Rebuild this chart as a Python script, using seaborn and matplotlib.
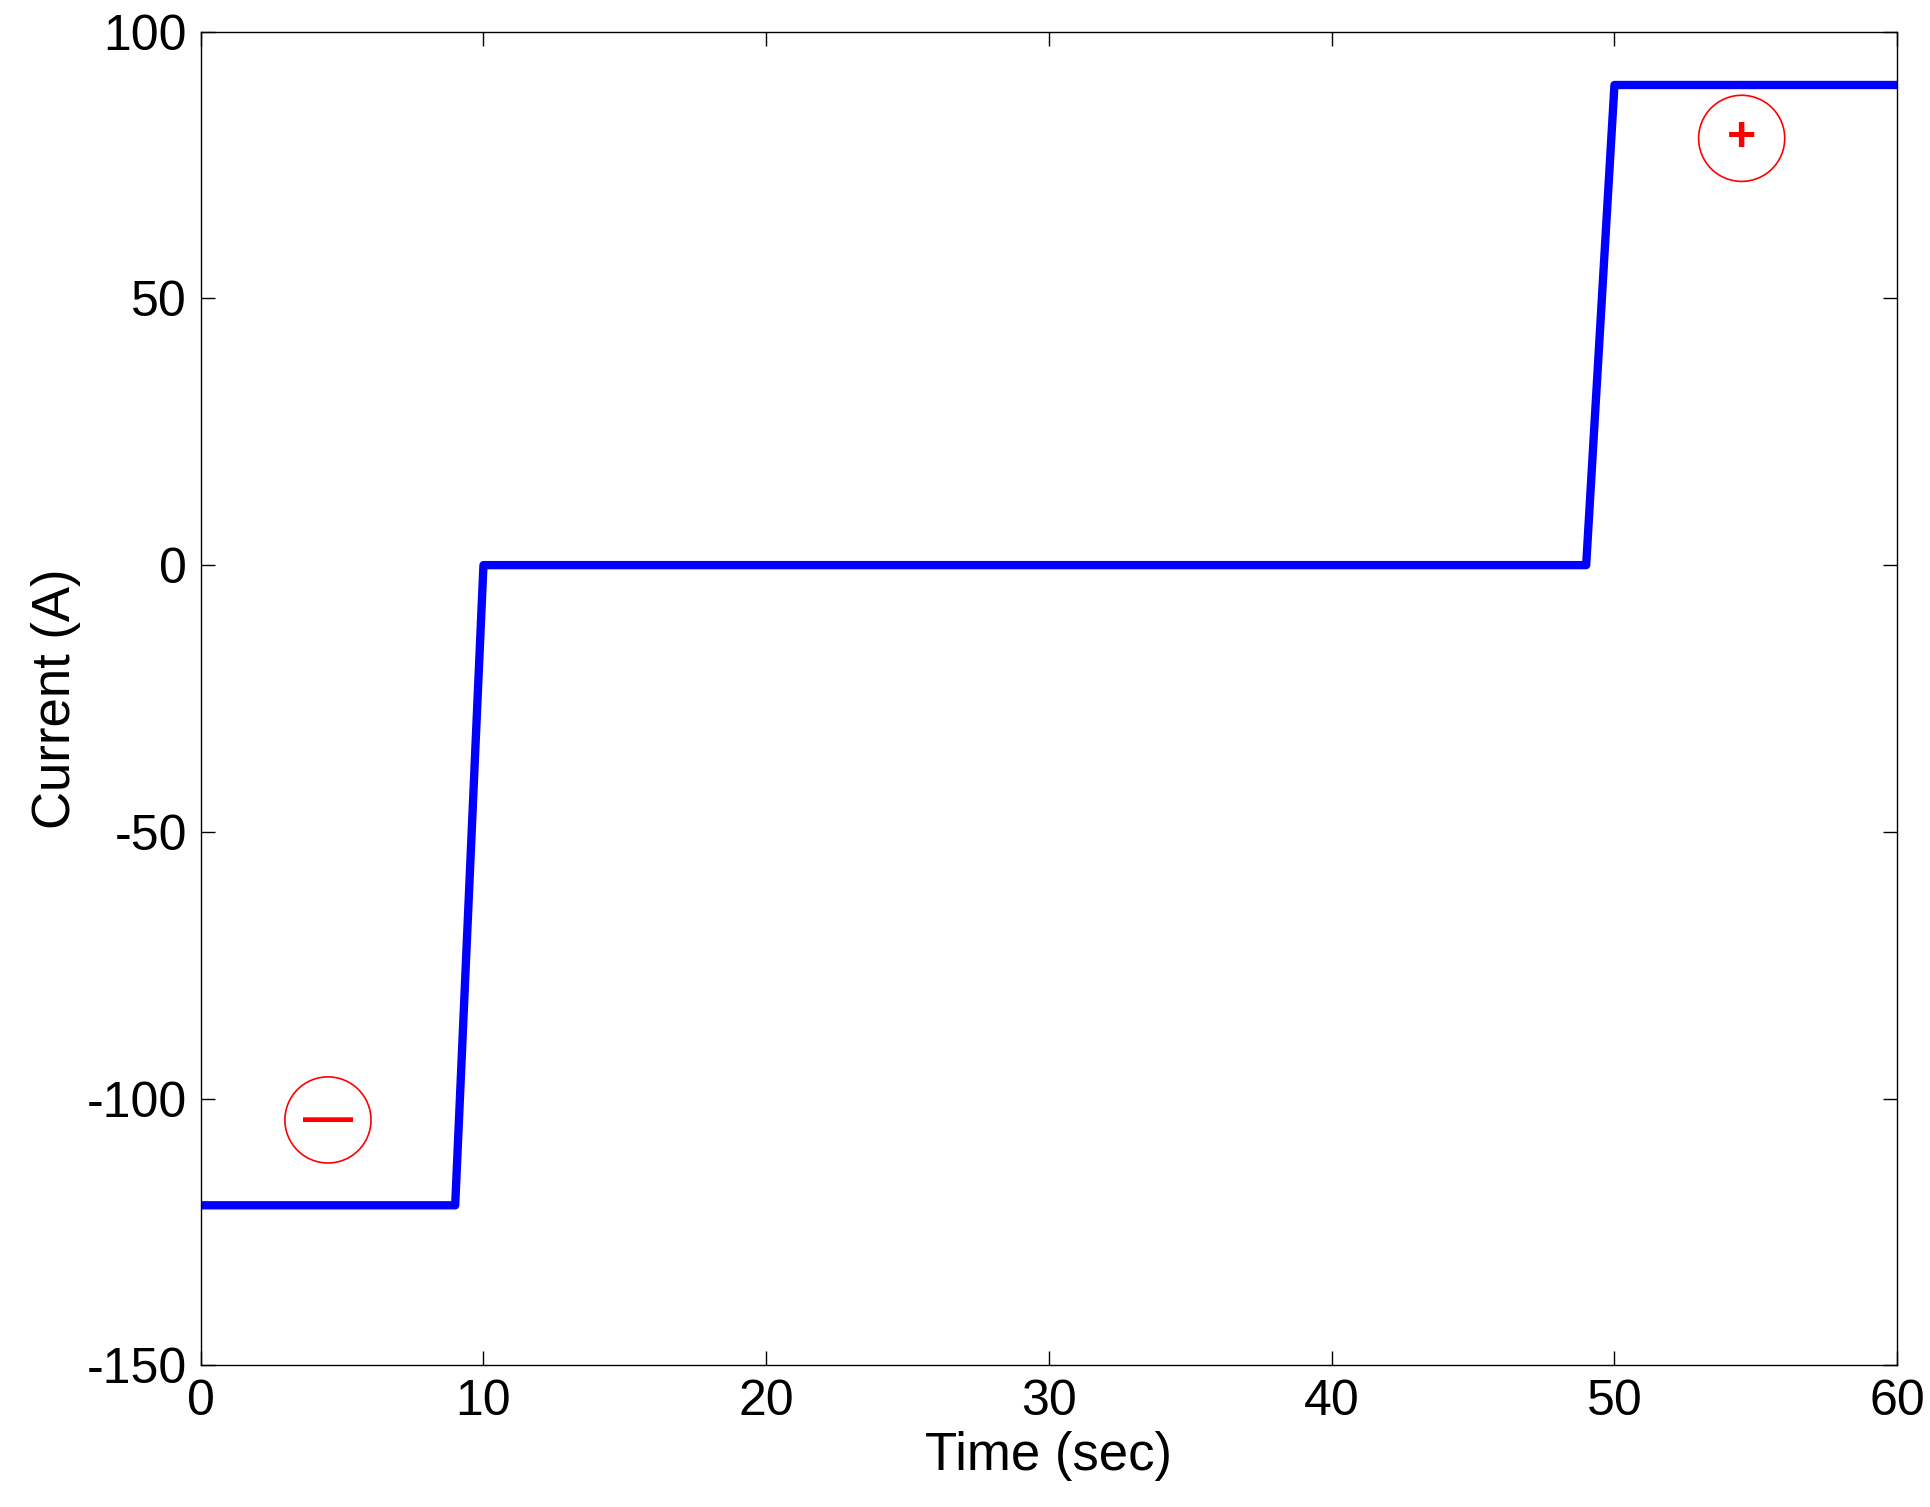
import seaborn as sns
import matplotlib.pyplot as plt
import pandas as pd

time_sec = [0, 9, 10, 49, 50, 60]
current_a = [-120, -120, 0, 0, 90, 90]
marker_x = [4.5, 54.5]
marker_y = [-104, 80]
marker_text = ['\u2014', '+']

sns.set_theme(style='white')
plt.rcParams['font.family'] = ['Liberation Sans', 'DejaVu Sans']
plt.rcParams['axes.unicode_minus'] = False
plt.rcParams['text.color'] = 'black'
plt.rcParams['axes.labelcolor'] = 'black'
plt.rcParams['xtick.color'] = 'black'
plt.rcParams['ytick.color'] = 'black'

df = pd.DataFrame({'t': time_sec, 'i': current_a})
fig = plt.figure(figsize=(19.3, 15.07), dpi=100)
ax = fig.add_axes([0.104, 0.094, 0.879, 0.885])
sns.lineplot(data=df, x='t', y='i', color='blue', linewidth=6, ax=ax)

ax.scatter(marker_x, marker_y, s=62**2, facecolors='none', edgecolors='red', linewidths=1.2)
for x, y, s in zip(marker_x, marker_y, marker_text):
    ax.text(x, y, s, color='red', fontsize=36, fontweight='bold', ha='center', va='center')

ax.set_xlim(0, 60)
ax.set_ylim(-150, 100)
ax.set_xticks(range(0, 61, 10))
ax.set_yticks(range(-150, 101, 50))
ax.tick_params(labelsize=36, direction='in', length=10, pad=10, top=True, right=True,
               bottom=True, left=True, color='black', width=1)
for sp in ax.spines.values():
    sp.set_color('black')
    sp.set_linewidth(1)
ax.set_xlabel('Time (sec)', fontsize=38, labelpad=4)
ax.set_ylabel('Current (A)', fontsize=38, labelpad=4)
fig.savefig('out.png')
